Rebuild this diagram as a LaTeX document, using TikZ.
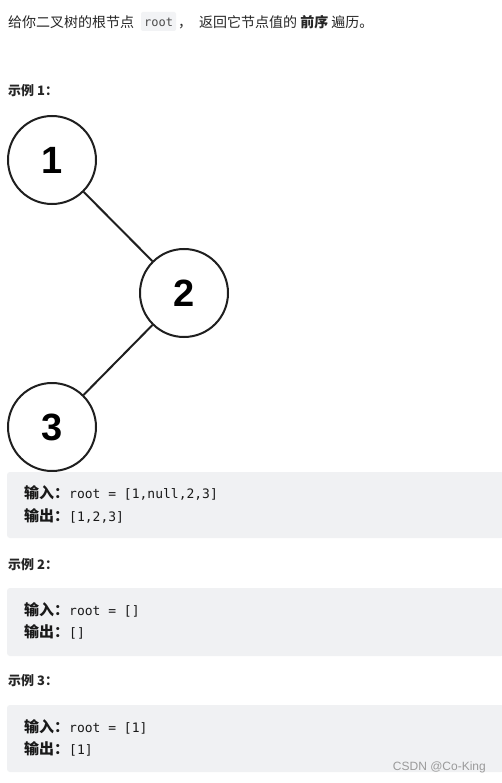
\documentclass[tikz,border=0pt]{standalone}
\usepackage{fontspec}
\setmainfont{Liberation Sans}
\newfontfamily\cjk{Noto Sans CJK SC}
\newfontfamily\mono{DejaVu Sans Mono}
\definecolor{txt}{HTML}{262626}
\definecolor{boxbg}{HTML}{F0F1F3}
\definecolor{codebg}{HTML}{F2F3F5}
\definecolor{wm}{HTML}{9A9A9A}
\begin{document}
\begin{tikzpicture}[x=1pt,y=-1pt,
  tnode/.style={circle,draw=black!88,line width=2pt,minimum size=88pt,inner sep=0pt,font=\fontsize{38}{38}\selectfont\bfseries},
  edge/.style={draw=black!88,line width=2pt},
  body/.style={anchor=west,inner sep=0pt,text=txt,font=\cjk\fontsize{14}{14}\selectfont},
  head/.style={anchor=west,inner sep=0pt,text=txt,font=\cjk\bfseries\fontsize{13}{13}\selectfont},
  codeline/.style={anchor=west,inner sep=0pt,text=black!90,font=\fontsize{13}{13}\selectfont},
  example/.style={fill=boxbg,rounded corners=3pt}]
\useasboundingbox (0,0) rectangle (501,783);
\fill[white] (0,0) rectangle (501,783);
% title
\fill[codebg,rounded corners=2pt] (141,12) rectangle (176,31);
\node[body] (title) at (8,22) {给你二叉树的根节点\hspace{44pt}，\hspace{7pt}返回它节点值的 \textbf{前序} 遍历。};
\node[anchor=west,inner sep=0pt,text=black!70,font=\mono\fontsize{12}{12}\selectfont] (rootcode) at (144,22) {root};
% example 1
\node[head] (h1) at (8,91) {示例 1：};
\node[tnode] (n1) at (52,160) {1};
\node[tnode] (n2) at (184,293) {2};
\node[tnode] (n3) at (52,427) {3};
\draw[edge] (n1) -- (n2);
\draw[edge] (n2) -- (n3);
\fill[example] (7,472) rectangle (504,538);
\node[codeline] (in1) at (24,493) {{\cjk\bfseries\fontsize{15}{15}\selectfont 输入：}{\mono root = [1,null,2,3]}};
\node[codeline] (out1) at (24,516) {{\cjk\bfseries\fontsize{15}{15}\selectfont 输出：}{\mono [1,2,3]}};
% example 2
\node[head] (h2) at (8,565) {示例 2：};
\fill[example] (7,588) rectangle (504,656);
\node[codeline] (in2) at (24,610) {{\cjk\bfseries\fontsize{15}{15}\selectfont 输入：}{\mono root = []}};
\node[codeline] (out2) at (24,632) {{\cjk\bfseries\fontsize{15}{15}\selectfont 输出：}{\mono []}};
% example 3
\node[head] (h3) at (8,681) {示例 3：};
\fill[example] (7,705) rectangle (504,772);
\node[codeline] (in3) at (24,727) {{\cjk\bfseries\fontsize{15}{15}\selectfont 输入：}{\mono root = [1]}};
\node[codeline] (out3) at (24,749) {{\cjk\bfseries\fontsize{15}{15}\selectfont 输出：}{\mono [1]}};
\node[anchor=east,inner sep=0pt,text=wm,font=\fontsize{12}{12}\selectfont] (wmark) at (486,767) {CSDN @Co-King};
\end{tikzpicture}
\end{document}
